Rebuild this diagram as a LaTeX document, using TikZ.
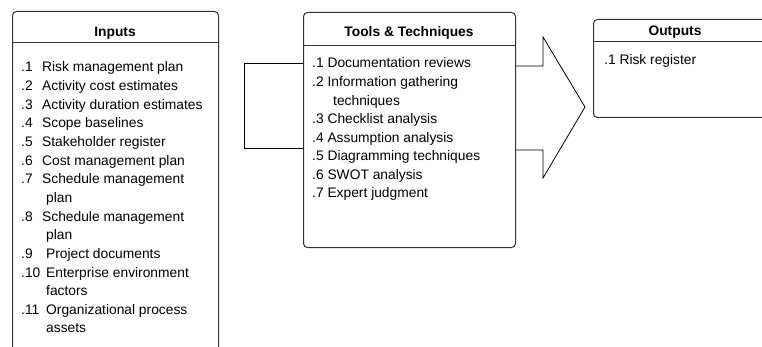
\documentclass[tikz,border=0pt]{standalone}
\usepackage{fontspec}
\setmainfont{Liberation Sans}

\newcommand{\itemno}[2][21pt]{\makebox[#1][l]{#2}}

\begin{document}
\begin{tikzpicture}[x=1pt,y=-1pt,
    box/.style={draw=black!80,line width=1pt,rounded corners=4pt,anchor=north west,inner sep=0pt},
    rule/.style={draw=black!80,line width=1pt},
    title/.style={font=\fontsize{13.8}{16}\selectfont\bfseries,anchor=base,inner sep=0pt},
    item/.style={font=\fontsize{13.8}{16}\selectfont,anchor=base west,inner sep=0pt},
    flow/.style={draw=black,line width=0.8pt}]

      \useasboundingbox (0,0) rectangle (762,347);
      \clip (0,0) rectangle (762,347);

      % boxes
      \node[box,minimum width=206pt,minimum height=349pt] (inputs) at (12,11) {};
      \node[box,minimum width=212pt,minimum height=235pt] (tools) at (303,12) {};
      \node[box,minimum width=177pt,minimum height=98pt] (outputs) at (593,19) {};

      \draw[rule] (inputs.west |- 0,43) -- (inputs.east |- 0,43);
      \draw[rule] (tools.west |- 0,46) -- (tools.east |- 0,46);
      \draw[rule] (outputs.west |- 0,42) -- (outputs.east |- 0,42);

      \node[title] (inputstitle) at (115,37) {Inputs};
      \node[title] (toolstitle) at (409,37) {Tools \& Techniques};
      \node[title] (outputstitle) at (675,36) {Outputs};

      % inputs list
      \foreach \txt [count=\i from 0] in {
          {\itemno{.1}Risk management plan},
          {\itemno{.2}Activity cost estimates},
          {\itemno{.3}Activity duration estimates},
          {\itemno{.4}Scope baselines},
          {\itemno{.5}Stakeholder register},
          {\itemno{.6}Cost management plan},
          {\itemno{.7}Schedule management},
          {\hspace*{25pt}plan},
          {\itemno{.8}Schedule management},
          {\hspace*{25pt}plan},
          {\itemno[25pt]{.9}Project documents},
          {\itemno[25pt]{.10}Enterprise environment},
          {\hspace*{25pt}factors},
          {\itemno[25pt]{.11}Organizational process},
          {\hspace*{25pt}assets}}
        \node[item] (in\i) at (21,{72+18.64*\i}) {\txt};

      % tools list
      \foreach \txt [count=\i from 0] in {
          {.1 Documentation reviews},
          {.2 Information gathering},
          {\hspace*{21pt}techniques},
          {.3 Checklist analysis},
          {.4 Assumption analysis},
          {.5 Diagramming techniques},
          {.6 SWOT analysis},
          {.7 Expert judgment}}
        \node[item] (tl\i) at (312,{68+18.57*\i}) {\txt};

      \node[item] (out0) at (604,65) {.1 Risk register};

      % loop and big arrow
      \draw[flow] (tools.west |- 0,63) -- (244,63) -- (244,148) -- (tools.west |- 0,148);

      \coordinate (tip) at (585,107);
      \draw[flow] (tools.east |- 0,66) -- (543,66) -- (543,37) -- (tip)
        -- (543,178) -- (543,150) -- (tools.east |- 0,150);

\end{tikzpicture}
\end{document}
